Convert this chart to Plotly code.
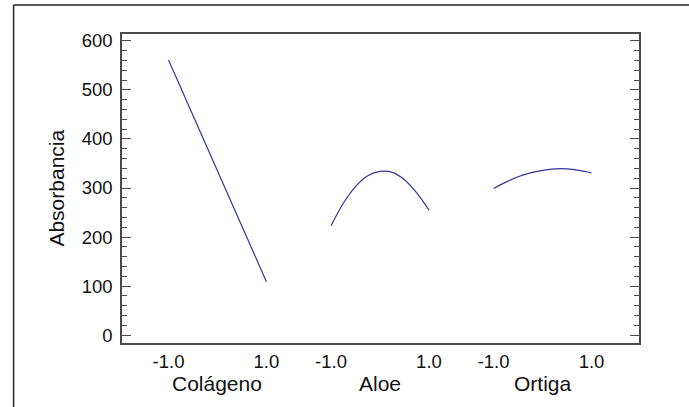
import plotly.graph_objects as go

# Data (main effects plot)
factors = ["Colágeno", "Aloe", "Ortiga"]
levels_col = [-1.0, 1.0]
abs_col = [561, 109]
levels_aloe = [-1.0, -0.75, -0.5, -0.25, 0.0, 0.25, 0.5, 0.75, 1.0]
abs_aloe = [223, 269, 303, 325, 334, 332, 317, 290, 255]
levels_ort = [-1.0, -0.75, -0.5, -0.25, 0.0, 0.25, 0.5, 0.75, 1.0]
abs_ort = [299, 312, 323, 331, 336, 339, 339, 336, 331]
tick_labels = ["-1.0", "1.0"]

# Layout: each factor drawn in its own segment of a shared x axis
seg_offset = [0.0, 3.32, 6.64]
series = [(levels_col, abs_col), (levels_aloe, abs_aloe), (levels_ort, abs_ort)]

line_color = "#35359a"
axis_color = "#4a4a4a"
font_family = "Liberation Sans, Arial, sans-serif"
tick_fs = 18.5
title_fs = 21

fig = go.Figure()
for off, (lv, vals) in zip(seg_offset, series):
    fig.add_trace(go.Scatter(
        x=[off + v for v in lv], y=vals, mode="lines",
        line=dict(color=line_color, width=1.2, shape="spline", smoothing=1.0),
        showlegend=False, hoverinfo="skip"))

tickvals, ticktext = [], []
for off in seg_offset:
    tickvals += [off - 1.0, off + 1.0]
    ticktext += tick_labels

W, H = 689, 407
ml, mr, mt, mb = 121.5, 50, 34, 64
pw = W - ml - mr
ph = H - mt - mb

annotations = []
for off, name in zip(seg_offset, factors):
    annotations.append(dict(x=off, y=-(383 - (H - mb)) / ph, xref="x", yref="paper",
                            text=name, showarrow=False,
                            font=dict(size=title_fs, color="#111", family=font_family),
                            xanchor="center", yanchor="middle"))
annotations.append(dict(x=(55 - ml) / pw, y=(H - mb - 188) / ph, xref="paper", yref="paper",
                        text="Absorbancia", textangle=-90, showarrow=False,
                        font=dict(size=title_fs, color="#111", family=font_family),
                        xanchor="center", yanchor="middle"))

shapes = [
    dict(type="line", xref="paper", yref="paper",
         x0=(13 - ml) / pw, x1=(13 - ml) / pw,
         y0=(H - mb - 5) / ph, y1=-(mb + 5) / ph,
         line=dict(color="#222", width=1.5)),
    dict(type="line", xref="paper", yref="paper",
         x0=(13 - ml) / pw, x1=(W + 5 - ml) / pw,
         y0=(H - mb - 5) / ph, y1=(H - mb - 5) / ph,
         line=dict(color="#222", width=1.5)),
]

fig.update_layout(
    width=W, height=H,
    margin=dict(l=ml, r=mr, t=mt, b=mb, pad=0, autoexpand=False),
    paper_bgcolor="white", plot_bgcolor="white",
    font=dict(family=font_family, size=tick_fs, color="#111"),
    xaxis=dict(range=[-1.95, 8.61], tickmode="array", tickvals=tickvals, ticktext=ticktext,
               showgrid=False, zeroline=False, showline=True, linecolor=axis_color,
               linewidth=1.5, mirror=True, ticks="", ticklabelstandoff=1,
               automargin=False, tickfont=dict(size=tick_fs, color="#111")),
    yaxis=dict(range=[-16, 614], tickvals=[0, 100, 200, 300, 400, 500, 600],
               showgrid=False, zeroline=False, showline=True, linecolor=axis_color,
               linewidth=1.5, mirror="ticks", ticks="inside", ticklen=9, tickwidth=1.3,
               tickcolor=axis_color, ticklabelstandoff=4, automargin=False,
               tickfont=dict(size=tick_fs, color="#111"),
               minor=dict(dtick=20, ticks="inside", ticklen=5, tickwidth=1.1,
                          tickcolor=axis_color, showgrid=False)),
    annotations=annotations,
    shapes=shapes,
)

fig.write_html("out.html", config={"displayModeBar": False},
               post_script="document.body.style.margin='0';document.body.style.overflow='hidden';")
